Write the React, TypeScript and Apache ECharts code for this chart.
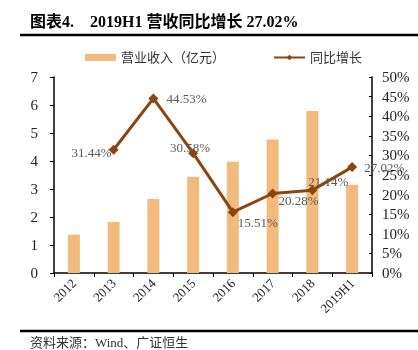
import React, { useEffect, useRef } from "react";
import * as echarts from "echarts";

const categories = ["2012", "2013", "2014", "2015", "2016", "2017", "2018", "2019H1"];
const revenue = [1.37, 1.82, 2.64, 3.44, 3.97, 4.77, 5.79, 3.15];
const growth: (number | null)[] = [null, 31.44, 44.53, 30.58, 15.51, 20.28, 21.14, 27.02];
const labelPositions: any[] = [null, "left", "right", "top", "bottom", "bottom", "top", "right"];
const labelOffsets: number[][] = [[0, 0], [8, 3], [3, 0], [-3, 11], [25, -6], [26, -10], [16, 8], [2, 0]];
const leftTicks = { min: 0, max: 7, interval: 1 };
const rightTicks = { min: 0, max: 50, interval: 5 };

const SERIF = "'Liberation Serif', 'Times New Roman', 'Noto Sans CJK SC', serif";

export default function App() {
  const ref = useRef<HTMLDivElement>(null);
  useEffect(() => {
    const chart = echarts.init(ref.current!, null, { renderer: "svg" });
    const lineData = growth.map((v, i) => ({
      value: v,
      label: {
        show: v !== null,
        position: labelPositions[i] || "top",
        offset: labelOffsets[i],
      },
    }));
    chart.setOption({
      animation: false,
      textStyle: { fontFamily: SERIF },
      legend: {
        top: 46,
        left: 80,
        itemGap: 48,
        itemWidth: 31,
        itemHeight: 7,
        textStyle: { fontFamily: SERIF, fontSize: 13, color: "#333" },
        data: [
          { name: "营业收入（亿元）", icon: "rect" },
          { name: "同比增长" },
        ],
      },
      grid: { left: 54, right: 46, top: 77, bottom: 77 },
      xAxis: {
        type: "category",
        data: categories,
        axisLine: { lineStyle: { color: "#000", width: 1.5 } },
        axisTick: { show: true, length: 4, lineStyle: { color: "#000" } },
        axisLabel: { rotate: 45, color: "#222", fontSize: 13, fontFamily: SERIF, margin: 8 },
      },
      yAxis: [
        {
          type: "value",
          ...leftTicks,
          splitLine: { show: false },
          axisLine: { show: true, lineStyle: { color: "#000", width: 1.5 } },
          axisTick: { show: true, length: 4, lineStyle: { color: "#000" } },
          axisLabel: { color: "#222", fontSize: 15, fontFamily: SERIF, margin: 16 },
        },
        {
          type: "value",
          ...rightTicks,
          splitLine: { show: false },
          axisLine: { show: true, lineStyle: { color: "#000", width: 1.5 } },
          axisTick: { show: true, inside: true, length: 3, lineStyle: { color: "#000" } },
          axisLabel: { color: "#222", fontSize: 15, fontFamily: SERIF, margin: 10, formatter: "{value}%" },
        },
      ],
      series: [
        {
          name: "营业收入（亿元）",
          type: "bar",
          data: revenue,
          barWidth: 12,
          itemStyle: { color: "#F3BA7E" },
        },
        {
          name: "同比增长",
          type: "line",
          yAxisIndex: 1,
          data: lineData,
          connectNulls: false,
          symbol: "diamond",
          symbolSize: 10,
          lineStyle: { color: "#8B450F", width: 3 },
          itemStyle: { color: "#8B450F" },
          label: {
            color: "#595959",
            fontSize: 13,
            fontFamily: SERIF,
            formatter: (p: any) => p.value.toFixed(2) + "%",
          },
        },
      ],
      graphic: [
        {
          type: "text",
          left: 30,
          top: 13,
          style: {
            text: "图表4.    2019H1 营收同比增长 27.02%",
            font: "bold 16px " + SERIF,
            fill: "#000",
          },
        },
        { type: "line", shape: { x1: 20, y1: 35, x2: 418, y2: 35 }, style: { stroke: "#000", lineWidth: 2.5 } },
        { type: "line", shape: { x1: 20, y1: 331, x2: 418, y2: 331 }, style: { stroke: "#000", lineWidth: 2.5 } },
        {
          type: "text",
          left: 30,
          top: 336,
          style: { text: "资料来源：Wind、广证恒生", font: "13px " + SERIF, fill: "#333" },
        },
      ],
    });
    return () => chart.dispose();
  }, []);
  return <div ref={ref} style={{ position: "fixed", left: 0, top: 0, width: 418, height: 350 }} />;
}
